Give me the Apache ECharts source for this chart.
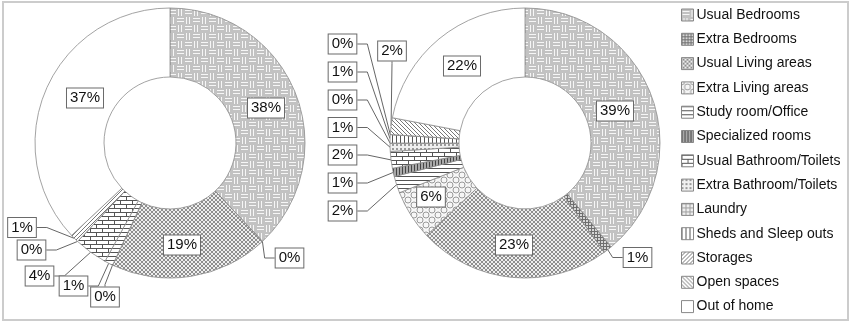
<!DOCTYPE html>
<html><head><meta charset="utf-8">
<script src="https://cdn.jsdelivr.net/npm/echarts@6/dist/echarts.min.js"></script>
<style>html,body{margin:0;padding:0;background:#fff}#c{width:850px;height:325px}</style>
</head><body><div id="c"></div>
<script>
// ---- data ----
const categories = ['Usual Bedrooms','Extra Bedrooms','Usual Living areas','Extra Living areas','Study room/Office','Specialized rooms','Usual Bathroom/Toilets','Extra Bathroom/Toilets','Laundry','Sheds and Sleep outs','Storages','Open spaces','Out of home'];
const leftValues  = [38, 0, 19, 0, 1, null, 4, null, 0, null, 1, null, 37];
const rightValues = [39, 1, 23, 6, 2, 1, 2, 1, 0, 1, 0, 2, 22];

// ---- label placement (annotation layout, not data) ----
const leftInside = ['Usual Bedrooms','Usual Living areas','Out of home'];
const rightInside = ['Usual Bedrooms','Usual Living areas','Extra Living areas','Out of home'];
const leftLabelAt = {
  'Usual Bedrooms':[266,108], 'Usual Living areas':[182,245], 'Out of home':[85,98],
  'Extra Bedrooms':[289.5,258], 'Extra Living areas':[105,297], 'Study room/Office':[73.5,286],
  'Usual Bathroom/Toilets':[39.5,276], 'Laundry':[31.5,250], 'Storages':[22,227.5]
};
const rightLabelAt = {
  'Usual Bedrooms':[615,111], 'Usual Living areas':[514,245], 'Extra Living areas':[431,197], 'Out of home':[462,66],
  'Extra Bedrooms':[637.5,257.5], 'Study room/Office':[342.5,211], 'Specialized rooms':[342.5,183],
  'Usual Bathroom/Toilets':[342.5,155], 'Extra Bathroom/Toilets':[342.5,127.5], 'Laundry':[342.5,100],
  'Sheds and Sleep outs':[342.5,72], 'Storages':[342.5,44], 'Open spaces':[392,51]
};

// ---- patterns ----
function tile(w,h,draw){const c=document.createElement('canvas');c.width=w;c.height=h;const g=c.getContext('2d');draw(g,w,h);return {image:c,repeat:'repeat'};}
function bg(g,w,h,col){g.fillStyle=col;g.fillRect(0,0,w,h);}
const patterns = {
  'Usual Bedrooms': tile(16,16,(g,w,h)=>{bg(g,w,h,'#c2c2c2');g.fillStyle='#f6f6f6';
     [[0,0,'h'],[8,8,'h'],[8,0,'v'],[0,8,'v']].forEach(([x,y,o])=>{
       if(o==='h'){g.fillRect(x+1,y+2,7,1);g.fillRect(x+1,y+5,7,1);} else {g.fillRect(x+2,y+1,1,7);g.fillRect(x+5,y+1,1,7);} });}),
  'Extra Bedrooms': tile(3,3,(g,w,h)=>{bg(g,w,h,'#d6d6d6');g.fillStyle='#6e6e6e';g.fillRect(0,0,3,1);g.fillRect(0,0,1,3);}),
  'Usual Living areas': tile(4,4,(g,w,h)=>{bg(g,w,h,'#eeeeee');g.fillStyle='#8e8e8e';for(let i=0;i<4;i++){g.fillRect(i,i,1,1);g.fillRect(3-i,i,1,1);}}),
  'Extra Living areas': tile(12,10,(g,w,h)=>{bg(g,w,h,'#f6f6f6');g.strokeStyle='#9a9a9a';g.lineWidth=1;
     [[0,0],[12,0],[0,10],[12,10],[6,5]].forEach(([x,y])=>{g.beginPath();g.arc(x,y,3,0,Math.PI*2);g.stroke();});}),
  'Study room/Office': tile(4,4,(g,w,h)=>{bg(g,w,h,'#ffffff');g.fillStyle='#555';g.fillRect(0,0,4,1);}),
  'Specialized rooms': tile(3,3,(g,w,h)=>{bg(g,w,h,'#a8a8a8');g.fillStyle='#444';g.fillRect(0,0,1,3);}),
  'Usual Bathroom/Toilets': tile(12,8,(g,w,h)=>{bg(g,w,h,'#ffffff');g.fillStyle='#555';g.fillRect(0,0,12,1);g.fillRect(0,4,12,1);g.fillRect(0,0,1,4);g.fillRect(6,4,1,4);}),
  'Extra Bathroom/Toilets': tile(4,4,(g,w,h)=>{bg(g,w,h,'#f0f0f0');g.fillStyle='#9a9a9a';g.fillRect(0,0,2,2);}),
  'Laundry': tile(4,4,(g,w,h)=>{bg(g,w,h,'#eeeeee');g.fillStyle='#a0a0a0';g.fillRect(0,0,4,1);g.fillRect(0,0,1,4);}),
  'Sheds and Sleep outs': tile(4,4,(g,w,h)=>{bg(g,w,h,'#ffffff');g.fillStyle='#555';g.fillRect(0,0,1,4);}),
  'Storages': tile(4,4,(g,w,h)=>{bg(g,w,h,'#ffffff');g.fillStyle='#777';for(let i=0;i<4;i++)g.fillRect(3-i,i,1,1);}),
  'Open spaces': tile(4,4,(g,w,h)=>{bg(g,w,h,'#ffffff');g.fillStyle='#777';for(let i=0;i<4;i++)g.fillRect(i,i,1,1);}),
  'Out of home': '#ffffff'
};

const FONT = "'Liberation Sans', Arial, sans-serif";
const RADII = [66,135];

function buildData(values, inside){
  const out=[];
  categories.forEach((name,i)=>{
    if(values[i]===null) return;
    out.push({name, value: values[i], itemStyle:{color: patterns[name]},
      label: inside.includes(name) ? {position:'inside'} : {position:'outside'},
      labelLine: {show: !inside.includes(name)}});
  });
  return out;
}

function makeLayout(data, at, inside){
  return function(p){
    const name = data[p.dataIndex].name;
    const pos = at[name];
    if(!pos) return {};
    const [cx, cy] = pos;
    if (inside.includes(name) || !p.labelLinePoints) {
      return {x: cx, y: cy, align:'center', verticalAlign:'middle'};
    }
    const w = p.labelRect.width, h = p.labelRect.height;
    const p0 = p.labelLinePoints[0];
    const dx = p0[0]-cx;
    let pts;
    if (Math.abs(dx) > w/2 + 6) {
      const side = dx >= 0 ? 1 : -1;
      const ax = cx + side*w/2;
      pts = [p0, [ax + side*10, cy], [ax, cy]];
    } else {
      const side = (p0[1]-cy) > 0 ? 1 : -1;
      const ay = cy + side*h/2;
      pts = [p0, [cx, ay + side*2], [cx, ay]];
    }
    return {x: cx, y: cy, align:'center', verticalAlign:'middle', labelLinePoints: pts};
  };
}

const leftData = buildData(leftValues, leftInside);
const rightData = buildData(rightValues, rightInside);

const labelStyle = {
  show:true, formatter:'{c}%', fontSize:15, fontFamily:FONT, color:'#111',
  backgroundColor:'#fff', borderColor:'#6a6a6a', borderWidth:1, padding:[2,3,2,3]
};

function series(data, center, at, inside){
  return {
    type:'pie', radius:RADII, center, startAngle:90, clockwise:true,
    avoidLabelOverlap:false, animation:false, silent:true,
    itemStyle:{borderColor:'#8c8c8c', borderWidth:0.8},
    label: labelStyle,
    labelLine:{show:true, showAbove:true, length:6, length2:6, lineStyle:{color:'#666', width:1}},
    labelLayout: makeLayout(data, at, inside),
    data
  };
}

const chart = echarts.init(document.getElementById('c'), null, {renderer:'canvas'});
chart.setOption({
  backgroundColor:'#fff',
  animation:false,
  graphic:[{type:'rect', shape:{x:3,y:2,width:845,height:318}, style:{fill:'none', stroke:'#cccccc', lineWidth:2}, silent:true}],
  legend:{
    orient:'vertical', left:681, top:8, padding:0, itemGap:10.3, itemWidth:12, itemHeight:12,
    icon:'rect', data:categories, selectedMode:false,
    itemStyle:{borderColor:'#888', borderWidth:1},
    textStyle:{fontSize:14, fontFamily:FONT, color:'#111', lineHeight:14, padding:[0,0,0,-2]}
  },
  series:[ series(leftData, [170,143], leftLabelAt, leftInside), series(rightData, [525,143], rightLabelAt, rightInside) ]
});
</script>
</body></html>
